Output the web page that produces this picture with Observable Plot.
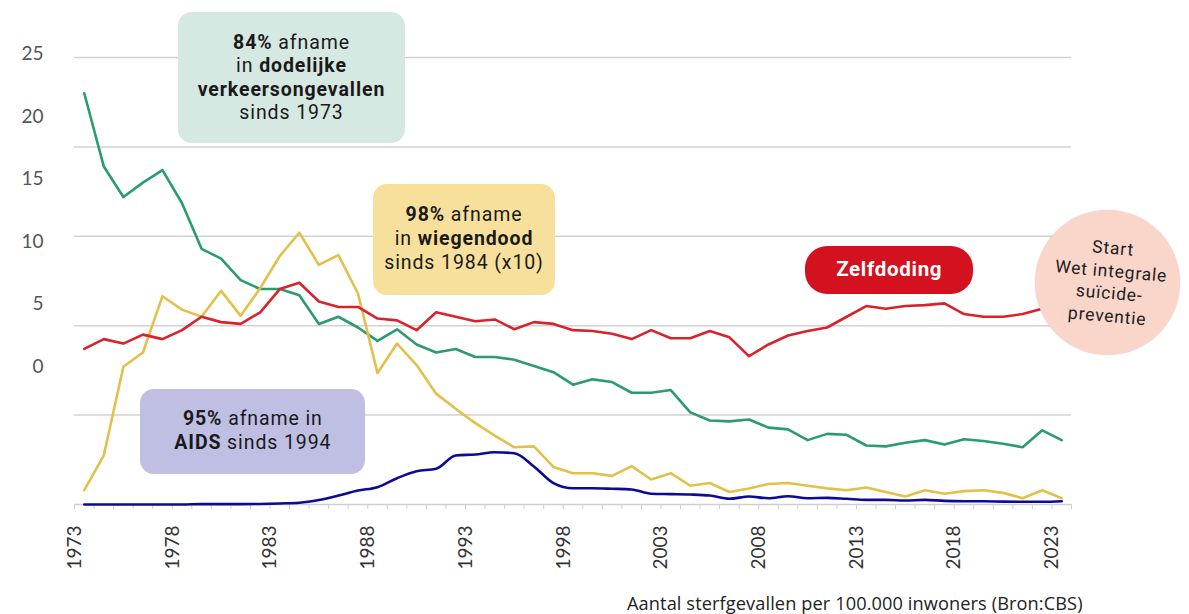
<!DOCTYPE html>
<html><head><meta charset="utf-8">
<script src="https://cdn.jsdelivr.net/npm/d3@7"></script>
<script src="https://cdn.jsdelivr.net/npm/@observablehq/plot@0.6"></script>
<style>
body{margin:0;background:#fff;}
#wrap{position:relative;width:1189px;height:614px;overflow:hidden;font-family:Lato,"Noto Sans",sans-serif;background:#fff;}
#wrap svg{display:block;}
.box{position:absolute;display:flex;flex-direction:column;align-items:center;justify-content:center;text-align:center;font-family:Roboto,"Liberation Sans",sans-serif;font-size:19.5px;line-height:23.5px;letter-spacing:0.9px;color:#1a1a1a;box-sizing:border-box;white-space:nowrap;}
.box .ln{display:block;}
.box .seg{display:inline-block;white-space:pre;}
.box b.seg{font-weight:700;}
.caption{position:absolute;left:627px;top:593px;font-family:"Open Sans","Noto Sans",sans-serif;font-size:18.2px;line-height:21px;letter-spacing:0.1px;color:#222;white-space:nowrap;}
</style></head><body><div id="wrap"></div>
<script>
// ---- data ----
const years = d3.range(1973, 2024);
const verkeer = [23.0,18.9,17.2,18.0,18.7,16.85,14.3,13.75,12.55,12.05,
  12.05,11.7,10.1,10.5,9.9,9.15,9.8,8.95,8.5,8.7,
  8.25,8.25,8.1,7.75,7.4,6.7,7.0,6.85,6.25,6.25,
  6.4,5.15,4.7,4.65,4.75,4.3,4.2,3.6,3.95,3.9,
  3.3,3.25,3.45,3.6,3.35,3.65,3.55,3.4,3.2,4.15,3.6];
const zelfdoding = [8.7,9.25,9.0,9.5,9.25,9.75,10.5,10.2,10.1,10.75,
  12.05,12.4,11.35,11.05,11.05,10.4,10.3,9.75,10.75,10.5,
  10.25,10.35,9.8,10.2,10.1,9.75,9.7,9.55,9.25,9.75,
  9.3,9.3,9.7,9.35,8.3,8.95,9.45,9.7,9.9,10.5,
  11.1,10.95,11.1,11.15,11.25,10.65,10.5,10.5,10.65,10.95,11.3];
const wiegendoodX10 = [0.8,2.75,7.7,8.5,11.65,10.9,10.5,11.95,10.55,12.1,
  13.9,15.2,13.4,13.95,11.8,7.35,9.0,7.8,6.2,5.35,
  4.55,3.85,3.2,3.25,2.1,1.75,1.75,1.6,2.15,1.4,
  1.75,1.05,1.2,0.7,0.9,1.15,1.2,1.05,0.9,0.8,
  0.95,0.7,0.45,0.8,0.6,0.75,0.8,0.65,0.35,0.8,0.35];
const aids = [0,0,0,0,0,0,0.02,0.02,0.02,0.03,
  0.06,0.1,0.25,0.5,0.78,0.97,1.47,1.86,2.0,2.74,
  2.8,2.92,2.87,2.13,1.2,0.91,0.91,0.88,0.84,0.6,
  0.58,0.56,0.5,0.32,0.45,0.35,0.46,0.35,0.37,0.32,
  0.26,0.26,0.22,0.26,0.2,0.18,0.18,0.16,0.15,0.15,0.18];

const gridValues = [5, 10, 15, 20, 25];
const yTickLabels = ["25", "20", "15", "10", "5", "0"];
const yTickAt = [25.2, 21.7, 18.2, 14.7, 11.2, 7.7];
const yearTicks = [1973, 1978, 1983, 1988, 1993, 1998, 2003, 2008, 2013, 2018, 2023];
const yearBounds = d3.range(1972.5, 2024, 1);
const captionText = "Aantal sterfgevallen per 100.000 inwoners (Bron:CBS)";

const series = [
  {values: verkeer, color: "#2b9c6f", curve: "linear"},
  {values: wiegendoodX10, color: "#e2c14b", curve: "linear"},
  {values: zelfdoding, color: "#d8232d", curve: "linear"},
  {values: aids, color: "#0b0b96", curve: "monotone-x"}
];

// annotation boxes (data coordinates)
const boxes = [
  {x1: 1977.8, x2: 1989.45, y1: 20.2, y2: 27.5, bg: "#d6e8e2", radius: 14, lh: 23.5,
   lines: [[["84%", 1], [" afname", 0]], [["in ", 0], ["dodelijke", 1]], [["verkeersongevallen", 1]], [["sinds 1973", 0]]]},
  {x1: 1987.8, x2: 1997.1, y1: 11.7, y2: 17.9, bg: "#f7e09b", radius: 14, lh: 24,
   lines: [[["98%", 1], [" afname", 0]], [["in ", 0], ["wiegendood", 1]], [["sinds 1984 (x10)", 0]]]},
  {x1: 1975.9, x2: 1987.4, y1: 1.68, y2: 6.43, bg: "#bfbfe4", radius: 14, lh: 24.4,
   lines: [[["95%", 1], [" afname in", 0]], [["AIDS", 1], [" sinds 1994", 0]]]}
];
const pill = {x1: 2009.9, x2: 2018.5, y1: 11.74, y2: 14.43, bg: "#d3111f", text: "Zelfdoding"};
const circle = {cx: 2025.38, cy: 12.39, rYears: 3.71, bg: "#f9d5ca",
  lines: ["Start", "Wet integrale", "suïcide-", "preventie"]};

// ---- chart ----
const chart = Plot.plot({
  width: 1189, height: 594,
  marginLeft: 74, marginRight: 118, marginTop: 57, marginBottom: 90,
  x: {domain: [1972.5, 2023.5], axis: null},
  y: {domain: [0, 25], axis: null},
  style: {fontFamily: "Lato, 'Noto Sans', sans-serif", background: "#fff", overflow: "visible"},
  marks: [
    Plot.ruleY(gridValues, {stroke: "#d2d2d2", strokeWidth: 1.5}),
    Plot.axisX(yearBounds, {tickSize: 5, tickFormat: () => "", stroke: "#cfcfcf"}),
    Plot.ruleY([0], {stroke: "#cfcfcf", strokeWidth: 1.5}),
    ...series.map(s => Plot.lineY(s.values, {x: years, stroke: s.color, strokeWidth: 2.6, curve: s.curve})),
    Plot.text(yTickLabels, {y: yTickAt, text: d => d, frameAnchor: "left", textAnchor: "end", dx: -31, fill: "#555", fontSize: 19}),
    Plot.text(yearTicks, {x: d => d, text: d => String(d), frameAnchor: "bottom", rotate: -90, textAnchor: "end", dy: 21, dx: -3.5, fill: "#333", fontSize: 19})
  ]
});

const wrap = document.getElementById("wrap");
wrap.appendChild(chart);

const sx = chart.scale("x"), sy = chart.scale("y");
const X = v => sx.apply(v), Y = v => sy.apply(v);

function addLine(parent, segs, lh) {
  const ld = document.createElement("div");
  ld.className = "ln";
  ld.style.height = lh + "px";
  for (const [txt, bold] of segs) {
    const s = document.createElement(bold ? "b" : "span");
    s.className = "seg";
    s.style.height = lh + "px";
    s.style.lineHeight = lh + "px";
    s.textContent = txt;
    ld.appendChild(s);
  }
  parent.appendChild(ld);
}

for (const b of boxes) {
  const d = document.createElement("div");
  d.className = "box";
  const l = X(b.x1), r = X(b.x2), t = Y(b.y2), bt = Y(b.y1);
  Object.assign(d.style, {left: l + "px", top: t + "px", width: (r - l) + "px", height: (bt - t) + "px",
    background: b.bg, borderRadius: b.radius + "px", lineHeight: b.lh + "px"});
  for (const line of b.lines) addLine(d, line, b.lh);
  wrap.appendChild(d);
}

{
  const d = document.createElement("div");
  d.className = "box";
  const l = X(pill.x1), r = X(pill.x2), t = Y(pill.y2), bt = Y(pill.y1);
  Object.assign(d.style, {left: l + "px", top: t + "px", width: (r - l) + "px", height: (bt - t) + "px",
    background: pill.bg, borderRadius: "22px", color: "#fff", fontWeight: "700", fontSize: "20.5px", letterSpacing: "0.7px"});
  d.textContent = pill.text;
  wrap.appendChild(d);
}

{
  const d = document.createElement("div");
  d.className = "box";
  const cx = X(circle.cx), cy = Y(circle.cy), r = X(circle.cx + circle.rYears) - cx;
  Object.assign(d.style, {left: (cx - r) + "px", top: (cy - r) + "px", width: 2 * r + "px", height: 2 * r + "px",
    background: circle.bg, borderRadius: "50%", fontSize: "17.5px", lineHeight: "22.5px", color: "#222",
    letterSpacing: "0.8px", boxShadow: "0 0 1.5px rgba(0,0,0,0.15)"});
  const inner = document.createElement("div");
  inner.style.transform = "translate(2px,0) rotate(5deg)";
  for (const line of circle.lines) addLine(inner, [[line, 0]], 22.5);
  d.appendChild(inner);
  wrap.appendChild(d);
}

const cap = document.createElement("div");
cap.className = "caption";
cap.textContent = captionText;
wrap.appendChild(cap);
</script></body></html>
